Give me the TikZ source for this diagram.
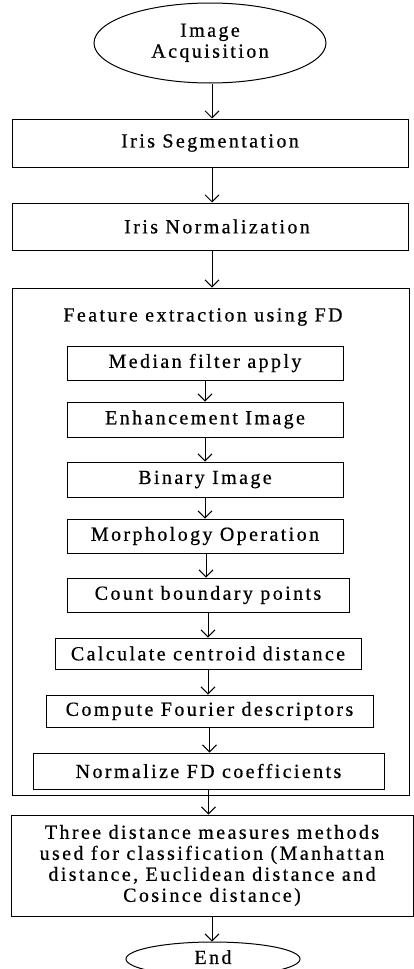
\documentclass[tikz,border=0pt]{standalone}
\usepackage{fontspec}
\setmainfont{Liberation Serif}[LetterSpace=12,FakeBold=0.6]
\usetikzlibrary{shapes.geometric,arrows.meta}
\begin{document}
\begin{tikzpicture}[x=1pt,y=-1pt,
  every node/.style={font=\fontsize{20}{21}\selectfont, inner sep=0pt, align=center},
  box/.style={draw, line width=1pt, rectangle},
  oval/.style={draw, line width=1pt, ellipse},
  flow/.style={line width=1pt, -{Straight Barb[length=7pt,width=14pt,line width=1pt]}}]
\useasboundingbox (0,0) rectangle (413,969);
\node[oval, minimum width=232pt, minimum height=80pt] (start) at (210,43) {\raisebox{-7pt}{\begin{tabular}{@{}c@{}}Image\\Acquisition\end{tabular}}};
\node[box, minimum width=396pt, minimum height=48pt] (seg) at (210,143) {Iris Segmentation};
\node[box, minimum width=396pt, minimum height=47pt] (norm) at (210,226.5) {\hspace*{14pt}Iris Normalization};
\node[box, minimum width=397pt, minimum height=507pt] (fe) at (210.5,541.5) {};
\node (fet) at (203,317) {Feature extraction using FD};
\node[box, minimum width=276pt, minimum height=34pt] (m1) at (205,363) {Median filter apply};
\node[box, minimum width=276pt, minimum height=35pt] (m2) at (205,419.5) {Enhancement Image};
\node[box, minimum width=276pt, minimum height=35pt] (m3) at (205,479.5) {Binary Image};
\node[box, minimum width=276pt, minimum height=34pt] (m4) at (205,536) {Morphology Operation};
\node[box, minimum width=282pt, minimum height=34pt] (m5) at (208,595) {Count boundary points};
\node[box, minimum width=306pt, minimum height=31pt] (m6) at (208,653.5) {Calculate centroid distance};
\node[box, minimum width=327pt, minimum height=32pt] (m7) at (209.5,711) {Compute Fourier descriptors};
\node[box, minimum width=351pt, minimum height=36pt] (m8) at (208.5,771) {Normalize FD coefficients};
\node[box, minimum width=402pt, minimum height=101pt] (fin) at (212,865.5) {Three distance measures methods\\used for classification (Manhattan\\distance, Euclidean distance and\\Cosince distance)};
\node[oval, minimum width=174pt, minimum height=34pt] (end) at (213,959) {\raisebox{4pt}{End}};
\draw[flow] (start.south) ++(2,0) coordinate (s0) -- (s0 |- seg.north);
\draw[flow] (seg.south) ++(2,0) coordinate (s1) -- (s1 |- norm.north);
\draw[flow] (norm.south) ++(2,0) coordinate (s2) -- (s2 |- fe.north);
\draw[flow] (m1.south) -- (m1.south |- m2.north);
\draw[flow] (m2.south) -- (m2.south |- m3.north);
\draw[flow] (m3.south) -- (m3.south |- m4.north);
\draw[flow] (m4.south) ++(1,0) coordinate (s4) -- (s4 |- m5.north);
\draw[flow] (m5.south) -- (m5.south |- m6.north);
\draw[flow] (m6.south) -- (m6.south |- m7.north);
\draw[flow] (m7.south) -- (m7.south |- m8.north);
\draw[flow] (m8.south) -- (m8.south |- fin.north);
\draw[flow] (fin.south) -- (fin.south |- end.north);
\end{tikzpicture}
\end{document}
